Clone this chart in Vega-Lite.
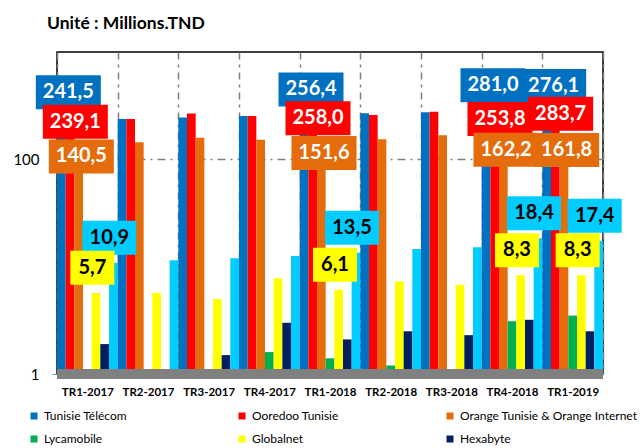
{
  "$schema": "https://vega.github.io/schema/vega-lite/v6.json",
  "width": 546,
  "height": 322,
  "autosize": {"type": "none"},
  "padding": {"left": 57, "top": 52, "right": 40, "bottom": 74},
  "background": "white",
  "title": {"text": "Unité : Millions.TND", "anchor": "start", "frame": "group", "offset": 20, "dx": -10, "fontSize": 17.5, "fontWeight": "bold", "font": "Lato", "color": "black"},
  "config": {
    "locale": {"number": {"decimal": ",", "thousands": ".", "grouping": [3], "currency": ["", ""]}},
    "view": {"stroke": "black", "strokeWidth": 1.5},
    "font": "Lato"
  },
  "data": {"values": [
    {"q": "TR1-2017", "s": "Tunisie Télécom", "v": 241.5},
    {"q": "TR1-2017", "s": "Ooredoo Tunisie", "v": 239.1},
    {"q": "TR1-2017", "s": "Orange Tunisie & Orange Internet", "v": 140.5},
    {"q": "TR1-2017", "s": "Globalnet", "v": 5.7},
    {"q": "TR1-2017", "s": "Hexabyte", "v": 1.9},
    {"q": "TR1-2017", "s": "Topnet", "v": 10.9},
    {"q": "TR2-2017", "s": "Tunisie Télécom", "v": 238},
    {"q": "TR2-2017", "s": "Ooredoo Tunisie", "v": 238},
    {"q": "TR2-2017", "s": "Orange Tunisie & Orange Internet", "v": 144},
    {"q": "TR2-2017", "s": "Globalnet", "v": 5.7},
    {"q": "TR2-2017", "s": "Topnet", "v": 11.5},
    {"q": "TR3-2017", "s": "Tunisie Télécom", "v": 245},
    {"q": "TR3-2017", "s": "Ooredoo Tunisie", "v": 267},
    {"q": "TR3-2017", "s": "Orange Tunisie & Orange Internet", "v": 159},
    {"q": "TR3-2017", "s": "Globalnet", "v": 5.0},
    {"q": "TR3-2017", "s": "Hexabyte", "v": 1.5},
    {"q": "TR3-2017", "s": "Topnet", "v": 12.0},
    {"q": "TR4-2017", "s": "Tunisie Télécom", "v": 254},
    {"q": "TR4-2017", "s": "Ooredoo Tunisie", "v": 254},
    {"q": "TR4-2017", "s": "Orange Tunisie & Orange Internet", "v": 152},
    {"q": "TR4-2017", "s": "Lycamobile", "v": 1.6},
    {"q": "TR4-2017", "s": "Globalnet", "v": 7.8},
    {"q": "TR4-2017", "s": "Hexabyte", "v": 3.0},
    {"q": "TR4-2017", "s": "Topnet", "v": 12.6},
    {"q": "TR1-2018", "s": "Tunisie Télécom", "v": 256.4},
    {"q": "TR1-2018", "s": "Ooredoo Tunisie", "v": 258.0},
    {"q": "TR1-2018", "s": "Orange Tunisie & Orange Internet", "v": 151.6},
    {"q": "TR1-2018", "s": "Lycamobile", "v": 1.4},
    {"q": "TR1-2018", "s": "Globalnet", "v": 6.1},
    {"q": "TR1-2018", "s": "Hexabyte", "v": 2.1},
    {"q": "TR1-2018", "s": "Topnet", "v": 13.5},
    {"q": "TR2-2018", "s": "Tunisie Télécom", "v": 269},
    {"q": "TR2-2018", "s": "Ooredoo Tunisie", "v": 259},
    {"q": "TR2-2018", "s": "Orange Tunisie & Orange Internet", "v": 154},
    {"q": "TR2-2018", "s": "Lycamobile", "v": 1.2},
    {"q": "TR2-2018", "s": "Globalnet", "v": 7.3},
    {"q": "TR2-2018", "s": "Hexabyte", "v": 2.5},
    {"q": "TR2-2018", "s": "Topnet", "v": 14.6},
    {"q": "TR3-2018", "s": "Tunisie Télécom", "v": 275},
    {"q": "TR3-2018", "s": "Ooredoo Tunisie", "v": 277},
    {"q": "TR3-2018", "s": "Orange Tunisie & Orange Internet", "v": 168},
    {"q": "TR3-2018", "s": "Globalnet", "v": 6.8},
    {"q": "TR3-2018", "s": "Hexabyte", "v": 2.3},
    {"q": "TR3-2018", "s": "Topnet", "v": 15.2},
    {"q": "TR4-2018", "s": "Tunisie Télécom", "v": 281.0},
    {"q": "TR4-2018", "s": "Ooredoo Tunisie", "v": 253.8},
    {"q": "TR4-2018", "s": "Orange Tunisie & Orange Internet", "v": 162.2},
    {"q": "TR4-2018", "s": "Lycamobile", "v": 3.1},
    {"q": "TR4-2018", "s": "Globalnet", "v": 8.3},
    {"q": "TR4-2018", "s": "Hexabyte", "v": 3.2},
    {"q": "TR4-2018", "s": "Topnet", "v": 18.4},
    {"q": "TR1-2019", "s": "Tunisie Télécom", "v": 276.1},
    {"q": "TR1-2019", "s": "Ooredoo Tunisie", "v": 283.7},
    {"q": "TR1-2019", "s": "Orange Tunisie & Orange Internet", "v": 161.8},
    {"q": "TR1-2019", "s": "Lycamobile", "v": 3.5},
    {"q": "TR1-2019", "s": "Globalnet", "v": 8.3},
    {"q": "TR1-2019", "s": "Hexabyte", "v": 2.5},
    {"q": "TR1-2019", "s": "Topnet", "v": 17.4}
  ]},
  "layer": [
    {
      "mark": {"type": "bar", "strokeWidth": 0},
      "encoding": {
        "x": {"field": "q", "type": "nominal", "sort": null,
          "scale": {"paddingInner": 0, "paddingOuter": 0},
          "axis": {"title": null, "labelAngle": 0, "ticks": false, "tickBand": "extent", "grid": true, "gridColor": "#808080", "gridDash": [7, 5, 3, 5], "gridWidth": 1.5, "domain": false, "labelPadding": 12, "labelFontSize": 11.5, "labelFontWeight": "bold", "labelColor": "black", "labelFont": "Lato"}},
        "y": {"field": "v", "type": "quantitative", "stack": null,
          "scale": {"type": "log", "domain": [1, 1000]},
          "axis": {"title": null, "values": [1, 100], "format": "d", "grid": true, "gridColor": "#808080", "gridDash": [8, 5, 2, 5], "gridWidth": 1.5, "domain": false, "tickSize": 5, "tickColor": "#808080", "labelPadding": 13, "labelFontSize": 15, "labelColor": "black", "labelFont": "Lato"}},
        "xOffset": {"field": "s", "type": "nominal", "scale": {"domain": ["Tunisie Télécom", "Ooredoo Tunisie", "Orange Tunisie & Orange Internet", "Lycamobile", "Globalnet", "Hexabyte", "Topnet"], "paddingInner": 0, "paddingOuter": 0}},
        "color": {"field": "s", "type": "nominal",
          "scale": {"domain": ["Tunisie Télécom", "Ooredoo Tunisie", "Orange Tunisie & Orange Internet", "Lycamobile", "Globalnet", "Hexabyte", "Topnet"], "range": ["#0070C0", "#FF0000", "#E46C0A", "#00B050", "#FFFF00", "#002060", "#00CCFF"]},
          "legend": {"title": null, "values": ["Tunisie Télécom", "Ooredoo Tunisie", "Orange Tunisie & Orange Internet", "Lycamobile", "Globalnet", "Hexabyte"], "orient": "none", "legendX": -29, "legendY": 358, "direction": "horizontal", "columns": 3, "gridAlign": "all", "columnPadding": 14, "rowPadding": 11, "symbolType": "square", "symbolSize": 49, "symbolStrokeWidth": 0, "labelOffset": 4, "labelFontSize": 12, "labelFont": "Lato", "labelColor": "black", "labelLimit": 300, "padding": 0}}
      }
    },
    {
      "mark": {"type": "rule", "color": "#808080", "strokeWidth": 9},
      "encoding": {"y": {"datum": 1}}
    },
    {
      "transform": [{"filter": "datum.s === 'Tunisie Télécom' && indexof(['TR1-2017','TR1-2018','TR4-2018','TR1-2019'], datum.q) >= 0"}],
      "mark": {"type": "point", "shape": "M-5.15,-4.3H1.35V-0.9H-5.15Z", "size": 400, "filled": true, "opacity": 1, "color": "#0070C0", "strokeWidth": 0},
      "encoding": {"x": {"field": "q", "type": "nominal", "sort": null}, "y": {"field": "v", "type": "quantitative"}}
    },
    {
      "transform": [{"filter": "datum.s === 'Tunisie Télécom' && indexof(['TR1-2017','TR1-2018','TR4-2018','TR1-2019'], datum.q) >= 0"}],
      "mark": {"type": "text", "dx": -19, "dy": -26, "align": "center", "baseline": "middle", "fontSize": 20, "fontWeight": "bold", "font": "Lato", "color": "white"},
      "encoding": {"x": {"field": "q", "type": "nominal", "sort": null}, "y": {"field": "v", "type": "quantitative"}, "text": {"field": "v", "type": "quantitative", "format": ".1f"}}
    },
    {
      "transform": [{"filter": "datum.s === 'Ooredoo Tunisie' && indexof(['TR1-2017','TR1-2018','TR4-2018','TR1-2019'], datum.q) >= 0"}],
      "mark": {"type": "point", "shape": "M-4.45,-1.4H2.05V2H-4.45Z", "size": 400, "filled": true, "opacity": 1, "color": "#FF0000", "strokeWidth": 0},
      "encoding": {"x": {"field": "q", "type": "nominal", "sort": null}, "y": {"field": "v", "type": "quantitative"}}
    },
    {
      "transform": [{"filter": "datum.s === 'Ooredoo Tunisie' && indexof(['TR1-2017','TR1-2018','TR4-2018','TR1-2019'], datum.q) >= 0"}],
      "mark": {"type": "text", "dx": -12, "dy": 3, "align": "center", "baseline": "middle", "fontSize": 20, "fontWeight": "bold", "font": "Lato", "color": "white"},
      "encoding": {"x": {"field": "q", "type": "nominal", "sort": null}, "y": {"field": "v", "type": "quantitative"}, "text": {"field": "v", "type": "quantitative", "format": ".1f"}}
    },
    {
      "transform": [{"filter": "datum.s === 'Orange Tunisie & Orange Internet' && indexof(['TR1-2017','TR1-2018','TR4-2018','TR1-2019'], datum.q) >= 0"}],
      "mark": {"type": "point", "shape": "M-3.85,-0.4H2.65V3H-3.85Z", "size": 400, "filled": true, "opacity": 1, "color": "#E46C0A", "strokeWidth": 0},
      "encoding": {"x": {"field": "q", "type": "nominal", "sort": null}, "y": {"field": "v", "type": "quantitative"}}
    },
    {
      "transform": [{"filter": "datum.s === 'Orange Tunisie & Orange Internet' && indexof(['TR1-2017','TR1-2018','TR4-2018','TR1-2019'], datum.q) >= 0"}],
      "mark": {"type": "text", "dx": -6, "dy": 13, "align": "center", "baseline": "middle", "fontSize": 20, "fontWeight": "bold", "font": "Lato", "color": "white"},
      "encoding": {"x": {"field": "q", "type": "nominal", "sort": null}, "y": {"field": "v", "type": "quantitative"}, "text": {"field": "v", "type": "quantitative", "format": ".1f"}}
    },
    {
      "transform": [{"filter": "datum.s === 'Topnet' && indexof(['TR1-2017','TR1-2018','TR4-2018','TR1-2019'], datum.q) >= 0"}],
      "mark": {"type": "point", "shape": "M-0.5,-4.2H4.9V-0.8H-0.5Z", "size": 400, "filled": true, "opacity": 1, "color": "#00CCFF", "strokeWidth": 0},
      "encoding": {"x": {"field": "q", "type": "nominal", "sort": null}, "y": {"field": "v", "type": "quantitative"}}
    },
    {
      "transform": [{"filter": "datum.s === 'Topnet' && indexof(['TR1-2017','TR1-2018','TR4-2018','TR1-2019'], datum.q) >= 0"}],
      "mark": {"type": "text", "dx": 22, "dy": -25, "align": "center", "baseline": "middle", "fontSize": 20, "fontWeight": "bold", "font": "Lato", "color": "black"},
      "encoding": {"x": {"field": "q", "type": "nominal", "sort": null}, "y": {"field": "v", "type": "quantitative"}, "text": {"field": "v", "type": "quantitative", "format": ".1f"}}
    },
    {
      "transform": [{"filter": "datum.s === 'Globalnet' && indexof(['TR1-2017','TR1-2018','TR4-2018','TR1-2019'], datum.q) >= 0"}],
      "mark": {"type": "point", "shape": "M-1.7,-4.2H2.7V-0.8H-1.7Z", "size": 400, "filled": true, "opacity": 1, "color": "#FFFF00", "strokeWidth": 0},
      "encoding": {"x": {"field": "q", "type": "nominal", "sort": null}, "y": {"field": "v", "type": "quantitative"}}
    },
    {
      "transform": [{"filter": "datum.s === 'Globalnet' && indexof(['TR1-2017','TR1-2018','TR4-2018','TR1-2019'], datum.q) >= 0"}],
      "mark": {"type": "text", "dx": 5, "dy": -25, "align": "center", "baseline": "middle", "fontSize": 20, "fontWeight": "bold", "font": "Lato", "color": "black"},
      "encoding": {"x": {"field": "q", "type": "nominal", "sort": null}, "y": {"field": "v", "type": "quantitative"}, "text": {"field": "v", "type": "quantitative", "format": ".1f"}}
    }
  ]
}
